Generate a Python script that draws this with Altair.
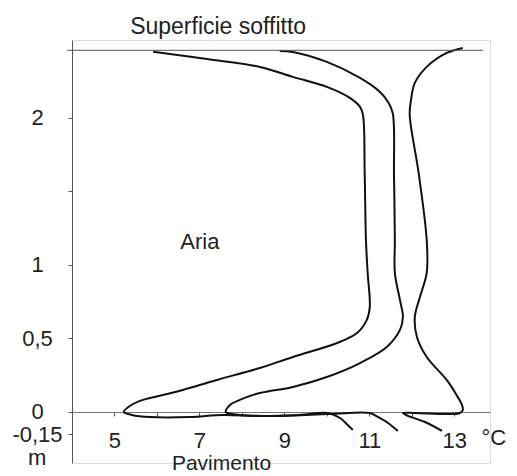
import altair as alt
import pandas as pd

# Temperature profiles (°C) vs height (m)
A_T = [5.91, 7.18, 8.42, 9.20, 10.00, 10.54, 10.78, 10.85, 10.89, 10.92, 10.96, 11.01, 10.94, 10.71,
       10.24, 9.20, 8.42, 7.41, 6.61, 6.24, 5.67, 5.36, 5.22, 5.41, 5.84, 6.78, 7.55, 8.42, 9.36,
       10.02, 10.31, 10.49, 10.61]
A_H = [2.45, 2.40, 2.347, 2.279, 2.211, 2.136, 2.075, 2.02, 1.626, 1.17, 0.946, 0.714, 0.626, 0.537,
       0.469, 0.374, 0.299, 0.218, 0.15, 0.122, 0.082, 0.041, 0.0, -0.02, -0.034, -0.034, -0.02, -0.027,
       -0.02, -0.007, -0.041, -0.088, -0.122]

B_T = [8.89, 9.20, 10.00, 10.78, 11.25, 11.44, 11.55, 11.58, 11.60, 11.60, 11.72, 11.79, 11.72, 11.41,
       10.78, 10.00, 9.20, 8.42, 7.95, 7.72, 7.62, 7.95, 8.89, 10.07, 11.01, 11.20, 11.44, 11.67]
B_H = [2.456, 2.449, 2.381, 2.272, 2.177, 2.109, 2.034, 1.612, 1.17, 0.946, 0.762, 0.646, 0.558, 0.442,
       0.333, 0.238, 0.17, 0.129, 0.082, 0.048, 0.0, -0.02, -0.027, -0.014, -0.007, -0.034, -0.075, -0.129]

C_T = [13.20, 12.82, 12.35, 12.07, 11.98, 11.95, 12.16, 12.35, 12.35, 12.19, 12.07, 12.12, 12.35, 12.82,
       13.08, 13.18, 13.20, 13.13, 12.89, 12.07, 11.79, 11.91, 12.31, 12.71]
C_H = [2.476, 2.442, 2.347, 2.238, 2.122, 2.02, 1.626, 1.17, 0.946, 0.782, 0.646, 0.51, 0.374, 0.218,
       0.102, 0.048, 0.014, -0.007, -0.014, -0.007, -0.007, -0.027, -0.068, -0.129]

CEILING = 2.46
Y_TICKS = [2, 1.5, 1, 0.5, 0, -0.15]
X_TICKS = [5, 6, 7, 8, 9, 10, 11, 12, 13]

rows = []
for name, ts, hs in (("A", A_T, A_H), ("B", B_T, B_H), ("C", C_T, C_H)):
    for i, (t, h) in enumerate(zip(ts, hs)):
        rows.append({"serie": name, "i": i, "T": t, "h": h})
df = pd.DataFrame(rows)

FONT = "Liberation Sans"
XD = [4, 13.84]
YD = [-0.347, 2.53]

xs = alt.Scale(domain=XD, nice=False, zero=False)
ys = alt.Scale(domain=YD, nice=False, zero=False)

base = alt.Chart(df)

curves = base.mark_line(color="#111", strokeWidth=2, interpolate="catmull-rom").encode(
    x=alt.X("T:Q", scale=xs, axis=alt.Axis(
        values=X_TICKS, offset=-51, tickSize=4, tickColor="#555", domainColor="#777",
        domainWidth=1, labelPadding=14, labelFont=FONT, labelFontSize=22, labelColor="#222",
        labelExpr="datum.value % 2 == 1 ? datum.label : ''", grid=False, title=None)),
    y=alt.Y("h:Q", scale=ys, axis=alt.Axis(
        values=Y_TICKS, tickSize=4, tickColor="#555", domainColor="#555", domainWidth=1,
        labelAlign="center", labelBaseline="middle", labelPadding=31, labelFont=FONT,
        labelFontSize=22, labelColor="#222",
        labelExpr="datum.value == 1.5 ? '' : (datum.value < 0 ? '-' : '') + replace(format(abs(datum.value), '~g'), '.', ',')",
        grid=False, title=None)),
    detail="serie:N",
    order="i:Q",
)

ceiling = alt.Chart(pd.DataFrame({"h": [CEILING]})).mark_rule(color="#555", strokeWidth=1).encode(
    y=alt.Y("h:Q", scale=ys),
    x=alt.value(-5),
    x2=alt.value(411),
)


def label(txt, t, h, size=22):
    return alt.Chart(pd.DataFrame({"T": [t], "h": [h], "s": [txt]})).mark_text(
        font=FONT, fontSize=size, color="#222", align="center", baseline="middle"
    ).encode(x=alt.X("T:Q", scale=xs), y=alt.Y("h:Q", scale=ys), text="s:N")


texts = (
    label("Superficie soffitto", 7.44, 2.62, 23)
    + label("Aria", 7.01, 1.157)
    + label("Pavimento", 7.52, -0.355, 21)
    + label("°C", 13.93, -0.18)
    + label("m", 3.18, -0.31)
)

chart = (curves + ceiling + texts).properties(
    width=418,
    height=423,
    padding={"left": 64, "top": 32, "right": 19, "bottom": 13},
    autosize=alt.AutoSizeParams(type="none"),
).configure_view(stroke=None).configure(background="white")

chart.save("out.html", embed_options={"renderer": "svg", "actions": False})
